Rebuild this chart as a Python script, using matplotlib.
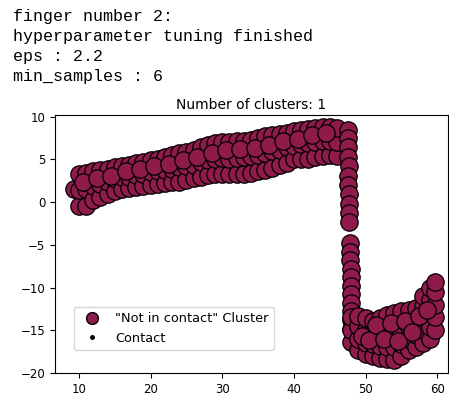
import matplotlib
matplotlib.use('Agg')
import matplotlib.pyplot as plt
from matplotlib.lines import Line2D

# header lines printed above the plot in the notebook
header_lines = ['finger number 2:', 'hyperparameter tuning finished', 'eps : 2.2', 'min_samples : 6']

# cluster points: rising band, vertical drop, bottom blob
band_x = [9.3,
          10, 10, 10, 11, 11, 11, 12, 12, 12, 13, 13, 13, 14, 14, 14,
          15, 15, 15, 16, 16, 16, 17, 17, 17, 18, 18, 18, 19, 19, 19,
          20, 20, 20, 21, 21, 21, 22, 22, 22, 23, 23, 23, 24, 24, 24,
          25, 25, 25, 26, 26, 26, 27, 27, 27, 28, 28, 28, 29, 29, 29,
          30, 30, 30, 31, 31, 31, 32, 32, 32, 33, 33, 33, 34, 34, 34,
          35, 35, 35, 36, 36, 36, 37, 37, 37, 38, 38, 38, 39, 39, 39,
          40, 40, 40, 41, 41, 41, 42, 42, 42, 43, 43, 43, 44, 44, 44,
          45, 45, 45, 46, 46, 46,
          10.5, 12.5, 14.5, 16.5, 18.5, 20.5, 22.5, 24.5, 26.5, 28.5,
          30.5, 32.5, 34.5, 36.5, 38.5, 40.5, 42.5, 44.5]
band_y = [1.5,
          -0.4, 1.4, 3.3, -0.5, 1.5, 3.4, 0.2, 1.9, 3.6, 0.6, 2.1, 3.8, 1.0, 2.4, 3.9,
          1.3, 2.7, 4.1, 1.5, 2.9, 4.2, 1.6, 3.0, 4.4, 1.8, 3.2, 4.6, 1.9, 3.3, 4.7,
          2.0, 3.5, 4.9, 2.1, 3.6, 5.1, 2.2, 3.8, 5.3, 2.3, 3.9, 5.5, 2.4, 4.1, 5.7,
          2.6, 4.2, 5.9, 2.8, 4.4, 6.1, 3.0, 4.7, 6.4, 3.2, 4.9, 6.7, 3.3, 5.1, 6.9,
          3.3, 5.2, 7.0, 3.3, 5.1, 7.0, 3.3, 5.2, 7.1, 3.3, 5.3, 7.2, 3.4, 5.4, 7.3,
          3.6, 5.5, 7.5, 3.8, 5.8, 7.7, 4.0, 6.0, 7.9, 4.3, 6.1, 8.0, 4.6, 6.4, 8.1,
          5.0, 6.6, 8.3, 5.1, 6.8, 8.4, 5.1, 6.9, 8.6, 5.3, 7.0, 8.7, 5.4, 7.1, 8.8,
          5.5, 7.2, 8.8, 5.4, 7.0, 8.7,
          2.4, 2.8, 3.1, 3.6, 3.9, 4.2, 4.5, 4.9, 5.3, 5.8,
          6.1, 6.2, 6.3, 6.7, 7.1, 7.4, 7.9, 8.1]

drop_x = [47.5, 47.6, 47.6, 47.6, 47.7, 47.6, 47.6, 47.7, 47.7, 47.7, 47.7,
          47.8, 47.8, 47.8, 47.9, 47.9, 47.9, 48.0, 48.0, 48.0, 48.0, 48.0]
drop_y = [8.5, 7.5, 6.4, 5.3, 4.2, 3.1, 2.0, 0.9, -0.2, -1.3, -2.3,
          -4.8, -5.8, -6.8, -7.8, -8.8, -9.8, -10.8, -11.8, -12.8, -13.8, -14.8]

blob_x = [48.0, 48.0, 48.0,
          49.0, 49.0, 49.0, 49.0, 50.0, 50.0, 50.0, 50.0, 51.0, 51.0, 51.0, 51.0,
          52.0, 52.0, 52.0, 52.0, 53.0, 53.0, 53.0, 53.0, 54.0, 54.0, 54.0, 54.0,
          55.0, 55.0, 55.0, 55.0, 56.0, 56.0, 56.0, 56.0, 57.0, 57.0, 57.0, 57.0,
          58.0, 58.0, 58.0, 58.0, 58.0, 59.0, 59.0, 59.0, 59.0, 59.0,
          59.7, 59.7, 59.7, 59.7, 59.7,
          49.5, 50.5, 51.5, 52.5, 53.5, 54.5, 55.5, 56.5, 57.5, 58.5]
blob_y = [-16.4, -15.0, -13.5,
          -17.3, -16.0, -14.5, -13.3, -17.8, -16.5, -15.0, -13.6, -18.0, -16.6, -15.2, -13.9,
          -18.2, -16.8, -15.3, -13.6, -18.4, -17.0, -15.5, -13.2, -18.5, -17.0, -15.4, -13.0,
          -18.0, -16.6, -15.2, -12.8, -17.3, -16.0, -14.6, -12.6, -16.9, -15.5, -14.0, -12.4,
          -16.5, -15.0, -13.5, -12.0, -11.0, -16.0, -14.6, -13.0, -11.5, -10.0,
          -15.0, -13.5, -12.0, -10.5, -9.3,
          -15.7, -16.1, -14.4, -16.0, -14.2, -16.3, -13.9, -15.2, -13.3, -12.6]

cluster_x = band_x + drop_x + blob_x
cluster_y = band_y + drop_y + blob_y

cluster_color = '#8e1b4a'

fig = plt.figure(figsize=(4.49, 3.95), dpi=100)
for i, line in enumerate(header_lines):
    fig.text(13 / 449, 1 - (17 + 20 * i) / 395, line, family='Liberation Mono',
             fontsize=12, va='center', ha='left')

ax = fig.add_axes([55 / 449, 1 - 373 / 395, 393 / 449, 258 / 395])
ax.plot(cluster_x, cluster_y, 'o', markerfacecolor=cluster_color,
        markeredgecolor='k', markeredgewidth=0.9, markersize=12.5)

ax.set_xlim(6.65, 61.5)
ax.set_ylim(-20.0, 10.2)
ax.set_xticks([10, 20, 30, 40, 50, 60])
ax.set_yticks([-20, -15, -10, -5, 0, 5, 10])
ax.tick_params(labelsize=8.5)
ax.set_title('Number of clusters: 1', fontsize=10, pad=4)

handles = [Line2D([], [], linestyle='none', marker='o', markerfacecolor=cluster_color,
                  markeredgecolor='k', markersize=8.5),
           Line2D([], [], linestyle='none', marker='o', color='k', markersize=2.5)]
ax.legend(handles, ['"Not in contact" Cluster', 'Contact'], loc='lower left',
          bbox_to_anchor=(0.048, 0.089), borderaxespad=0, fontsize=9.3)

plt.savefig('out.png', dpi=100)
